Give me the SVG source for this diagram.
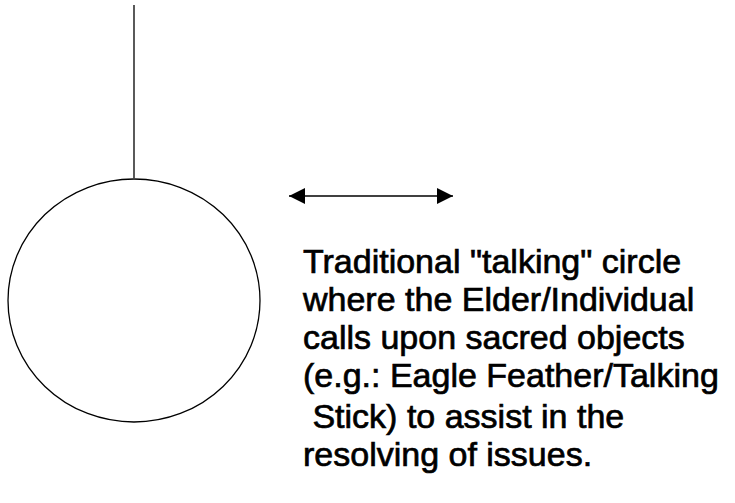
<svg xmlns="http://www.w3.org/2000/svg" width="735" height="503" viewBox="0 0 735 503">
<style>
.s{fill:none;stroke:#000;stroke-width:1.3}
.t{font-family:"Liberation Sans",Arial,sans-serif;font-size:34px;fill:#000;stroke:#000;stroke-width:0.7}
</style>
<defs>
<marker id="ah" viewBox="0 0 16 16" refX="16" refY="8" markerWidth="16" markerHeight="16" markerUnits="userSpaceOnUse" orient="auto-start-reverse">
<path d="M0,0 L16,8 L0,16 Z" fill="#000"/>
</marker>
</defs>
<rect width="735" height="503" fill="#fff"/>
<g id="circle-node">
<ellipse class="s" cx="134" cy="300.5" rx="126" ry="121.5"/>
</g>
<g id="label">
<text class="t" xml:space="preserve"><tspan x="303" y="273">Traditional "talking" circle</tspan><tspan x="303" y="311">where the Elder/Individual</tspan><tspan x="303" y="349">calls upon sacred objects</tspan><tspan x="303" y="387">(e.g.: Eagle Feather/Talking</tspan><tspan x="303" y="428"> Stick) to assist in the</tspan><tspan x="303" y="466">resolving of issues.</tspan></text>
</g>
<g id="connectors">
<line class="s" x1="134" y1="5" x2="134" y2="178"/>
<line class="s" x1="289" y1="196" x2="453" y2="196" stroke-width="2" marker-start="url(#ah)" marker-end="url(#ah)"/>
</g>
</svg>
